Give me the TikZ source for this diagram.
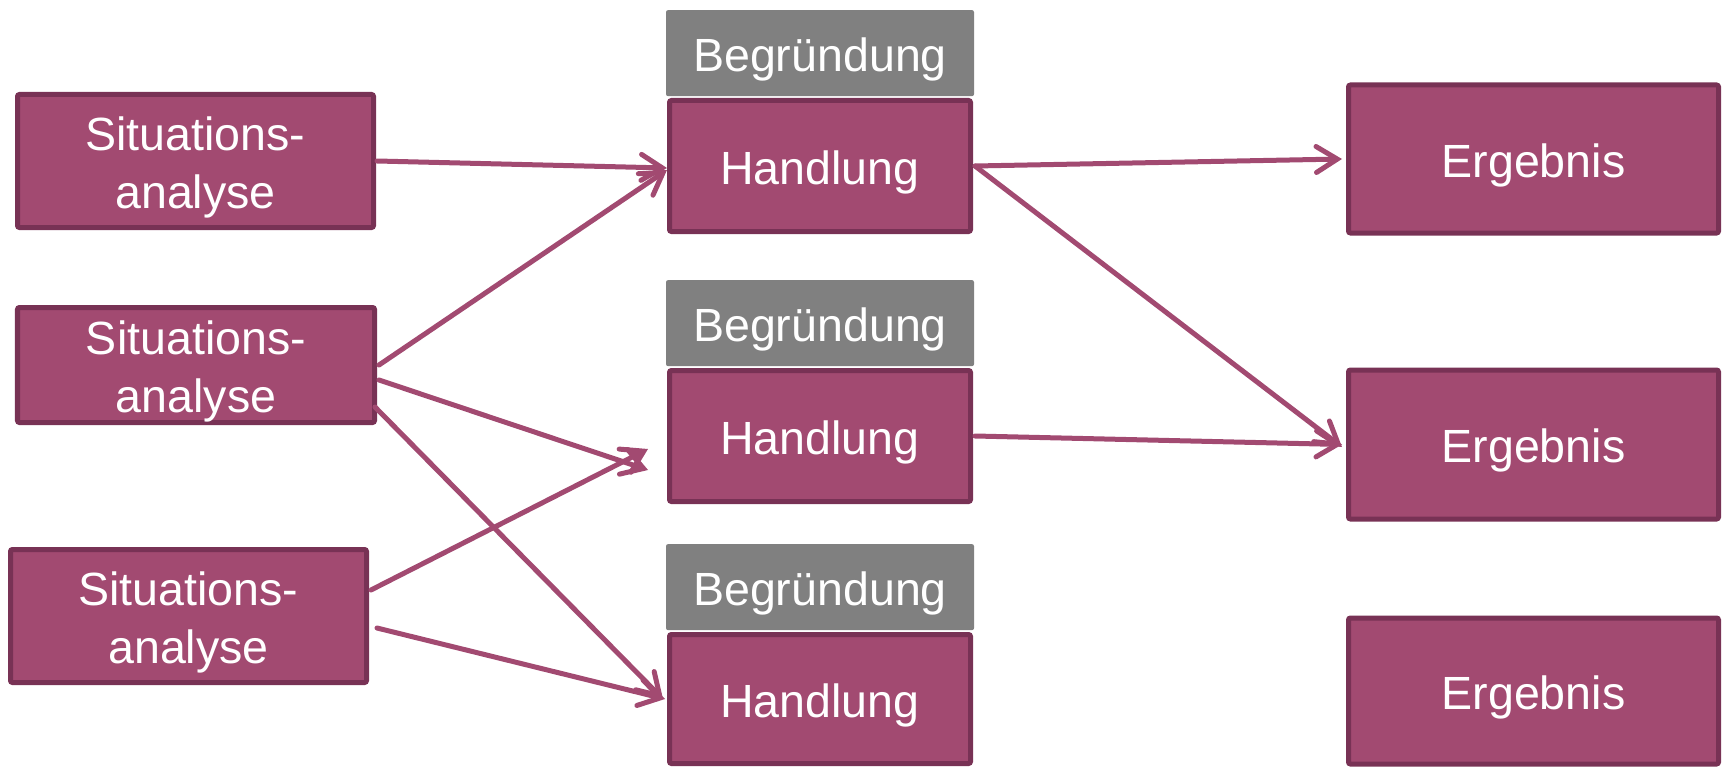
\documentclass[tikz,border=0pt]{standalone}
\usepackage{fontspec}
\setmainfont{Liberation Sans}
\usetikzlibrary{positioning}
\usetikzlibrary{arrows.meta}
\definecolor{lila}{RGB}{162,74,113}
\definecolor{lilarand}{RGB}{120,50,85}
\definecolor{grau}{RGB}{128,128,128}
\newcommand{\hochstrut}{\rule{0pt}{0.92cm}}

\begin{document}
\begin{tikzpicture}[
         kasten/.style = {draw=lilarand, fill=lila, line width=0.1cm,
      rounded corners=0.04cm, text=white, align=center, inner ysep=0pt,
      font=\fontsize{26.5}{33}\selectfont},
         begruendung/.style = {fill=grau, rounded corners=0.04cm, text=white,
      minimum width=6.16cm, minimum height=1.72cm, inner sep=0pt,
      font=\fontsize{26.5}{33}\selectfont},
         pfeil/.style = {draw=lila, line width=0.1cm, line cap=round,
      -{Straight Barb[length=0.42cm,width=0.52cm,line cap=round]}}]

      \useasboundingbox (0,0) rectangle (34.46,-15.36);

      % situationsanalysen
      \node[kasten, minimum width=7.12cm, minimum height=2.66cm]
         at (3.91,-3.22)  (s1) {\hochstrut Situations-\\analyse};
      \node[kasten, minimum width=7.14cm, minimum height=2.30cm]
         at (3.92,-7.30)  (s2) {\hochstrut Situations-\\analyse};
      \node[kasten, minimum width=7.12cm, minimum height=2.66cm]
         at (3.77,-12.32) (s3) {\hochstrut Situations-\\analyse};

      % handlungen
      \node[kasten, minimum width=6.02cm, minimum height=2.62cm]
         at (16.40,-3.32)  (h1) {\hochstrut Handlung};
      \node[kasten, minimum width=6.02cm, minimum height=2.62cm]
         at (16.40,-8.72)  (h2) {\hochstrut Handlung};
      \node[kasten, minimum width=6.02cm, minimum height=2.58cm]
         at (16.40,-13.98) (h3) {\hochstrut Handlung};

      % begruendungen
      \node[begruendung, above=0.03cm of h1] (b1) {\hochstrut Begründung};
      \node[begruendung, above=0.03cm of h2] (b2) {\hochstrut Begründung};
      \node[begruendung, above=0.03cm of h3] (b3) {\hochstrut Begründung};

      % ergebnisse
      \node[kasten, minimum width=7.40cm, minimum height=2.96cm]
         at (30.67,-3.18)  (e1) {\hochstrut Ergebnis};
      \node[kasten, minimum width=7.40cm, minimum height=2.98cm]
         at (30.67,-8.89)  (e2) {\hochstrut Ergebnis};
      \node[kasten, minimum width=7.40cm, minimum height=2.92cm]
         at (30.67,-13.82) (e3) {\hochstrut Ergebnis};

      % situation -> handlung
      \draw[pfeil] ([xshift=0.02cm]s1.east) -- ([yshift=-0.04cm]h1.west);
      \draw[pfeil] ([xshift=0.04cm]s2.east) -- ([yshift=-0.08cm]h1.west);
      \draw[pfeil] ([xshift=0.04cm,yshift=-0.30cm]s2.east)
         -- ([xshift=-0.38cm,yshift=-0.68cm]h2.west);
      \draw[pfeil] ([xshift=-0.04cm,yshift=-0.84cm]s2.east)
         -- ([xshift=-0.08cm]h3.west);
      \draw[pfeil] ([xshift=0.04cm,yshift=0.52cm]s3.east)
         -- ([xshift=-0.38cm,yshift=-0.26cm]h2.west);
      \draw[pfeil] ([xshift=0.16cm,yshift=-0.24cm]s3.east)
         -- ([xshift=-0.04cm]h3.west);

      % handlung -> ergebnis
      \draw[pfeil] ([xshift=0.04cm]h1.east) -- ([xshift=-0.08cm]e1.west);
      \draw[pfeil] ([xshift=0.04cm]h1.east) -- ([xshift=-0.08cm,yshift=-0.05cm]e2.west);
      \draw[pfeil] ([xshift=0.04cm]h2.east) -- ([xshift=-0.08cm]e2.west);

   \end{tikzpicture}
\end{document}
